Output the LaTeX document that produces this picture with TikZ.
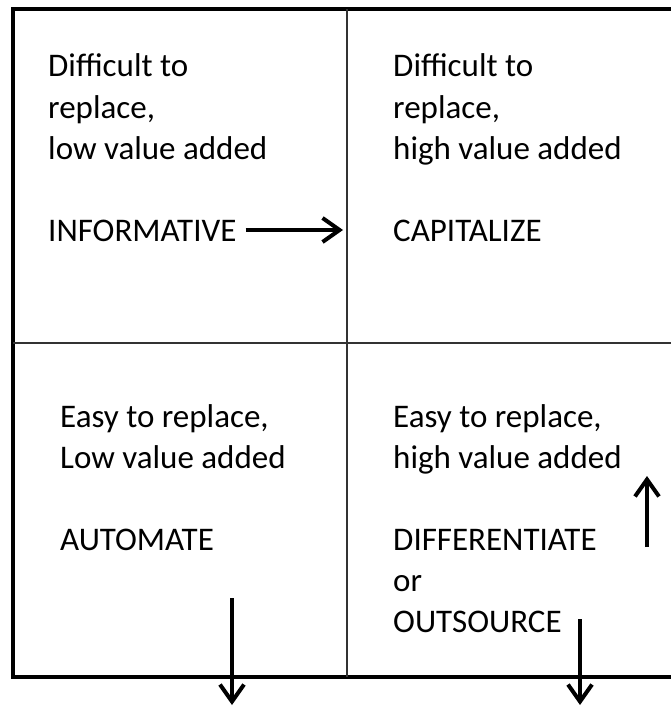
\documentclass[tikz,border=0pt]{standalone}
\usepackage{fontspec}
\setmainfont{Carlito}
\usetikzlibrary{arrows.meta}
\begin{document}
\begin{tikzpicture}[x=1pt,y=-1pt,
  frame/.style={line width=4pt,line join=miter},
  divider/.style={line width=1.4pt,draw=black!80},
  txt/.style={anchor=base west,inner sep=0pt,font=\fontsize{33}{41}\selectfont},
  arr/.style={line width=4pt,-{Straight Barb[length=17pt,width=24pt,line width=4pt]}}]
\useasboundingbox (0,0) rectangle (670,706);
% frame
\draw[frame] (672,9) -- (13,9) -- (13,677) -- (672,677);
\draw[divider] (347,9) -- (347,677);
\draw[divider] (13,343) -- (672,343);
% top-left
\node[txt] (tl1) at (48,77) {Difficult to};
\node[txt] (tl2) at (48,118) {replace,};
\node[txt] (tl3) at (48,159) {low value added};
\node[txt] (inf) at (48,241) {INFORMATIVE};
% top-right
\node[txt] (tr1) at (393,77) {Difficult to};
\node[txt] (tr2) at (393,118) {replace,};
\node[txt] (tr3) at (393,159) {high value added};
\node[txt] (cap) at (393,241) {CAPITALIZE};
% bottom-left
\node[txt] (bl1) at (60,427) {Easy to replace,};
\node[txt] (bl2) at (60,468) {Low value added};
\node[txt] (aut) at (60,550) {AUTOMATE};
% bottom-right
\node[txt] (br1) at (393,427) {Easy to replace,};
\node[txt] (br2) at (393,468) {high value added};
\node[txt] (dif) at (393,550) {DIFFERENTIATE};
\node[txt] (or) at (393,591) {or};
\node[txt] (out) at (393,632) {OUTSOURCE};
% arrows
\coordinate (rtip) at (343,230);
\coordinate (upt) at (647,547);
\coordinate (uph) at (647,476);
\coordinate (d1t) at (232,598);
\coordinate (d1h) at (232,705);
\coordinate (d2t) at (580,619);
\coordinate (d2h) at (580,705);
\draw[arr] (inf.east |- rtip) ++(9,0) -- (rtip);
\draw[arr] (upt) -- (uph);
\draw[arr] (d1t) -- (d1h);
\draw[arr] (d2t) -- (d2h);
\end{tikzpicture}
\end{document}
